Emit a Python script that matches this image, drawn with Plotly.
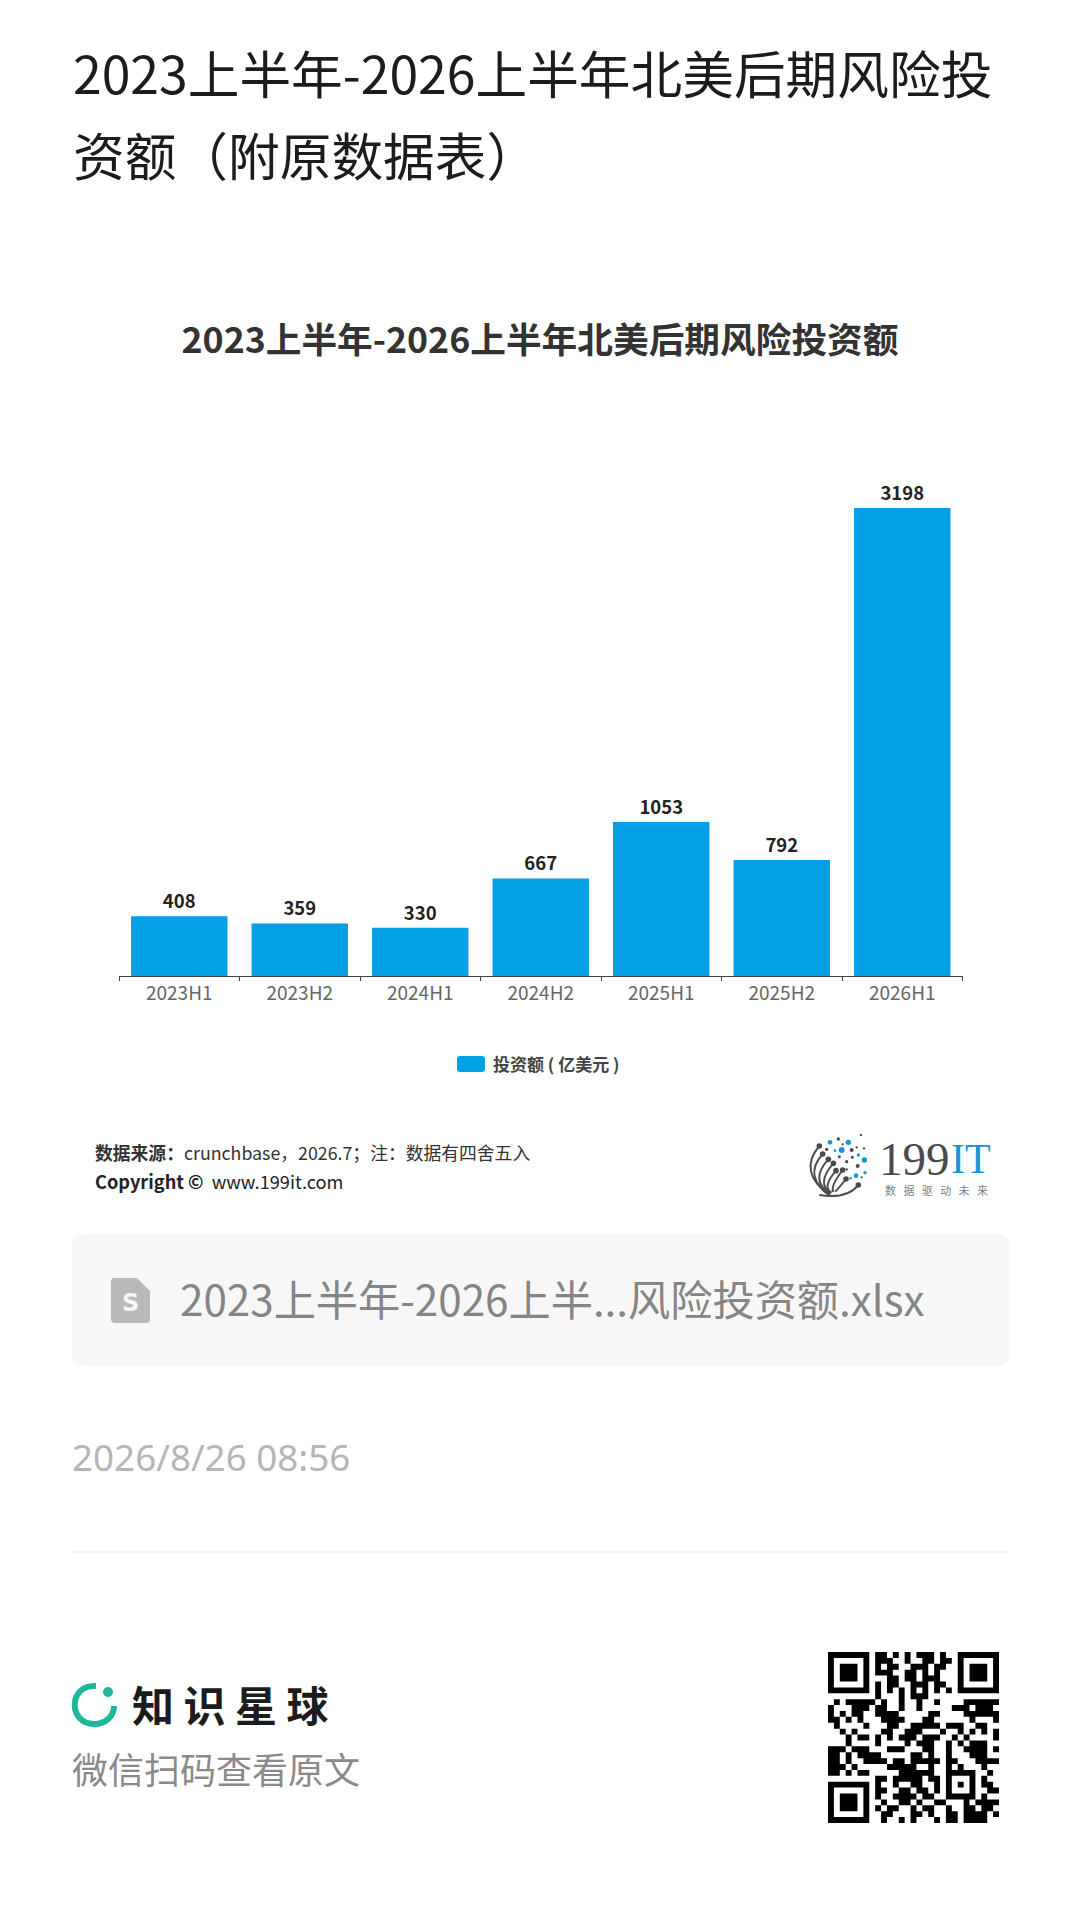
import plotly.graph_objects as go

# ---------- chart data ----------
categories = ["2023H1", "2023H2", "2024H1", "2024H2", "2025H1", "2025H2", "2026H1"]
values = [408, 359, 330, 667, 1053, 792, 3198]
series_name = "投资额（亿美元）"

page_title_lines = ["2023上半年-2026上半年北美后期风险投", "资额（附原数据表）"]
chart_title = "2023上半年-2026上半年北美后期风险投资额"
file_name = "2023上半年-2026上半...风险投资额.xlsx"
timestamp = "2026/8/26 08:56"

W, H = 1080, 1922
CJK = "Noto Sans CJK SC"
BLUE = "#03A0E6"

def fx(x): return x / W
def fy(y): return 1 - y / H
def pt(x, y): return f"{fx(x):.5f},{fy(y):.5f}"

shapes, annotations = [], []

def text(x, y, s, size, color, anchor="left", family=CJK):
    annotations.append(dict(x=fx(x), y=fy(y), xref="paper", yref="paper", text=s, showarrow=False,
                            xanchor=anchor, yanchor="middle", align=anchor, borderpad=0, borderwidth=0,
                            font=dict(family=family, size=size, color=color)))

def path(d, fill=None, line=None, width=0):
    shapes.append(dict(type="path", xref="paper", yref="paper", path=d,
                       fillcolor=fill if fill else "rgba(0,0,0,0)",
                       line=dict(color=line if line else "rgba(0,0,0,0)", width=width), layer="below"))

def rrect(x0, y0, x1, y1, r):
    return (f"M{pt(x0+r,y0)} L{pt(x1-r,y0)} Q{pt(x1,y0)} {pt(x1,y0+r)} L{pt(x1,y1-r)} Q{pt(x1,y1)} {pt(x1-r,y1)} "
            f"L{pt(x0+r,y1)} Q{pt(x0,y1)} {pt(x0,y1-r)} L{pt(x0,y0+r)} Q{pt(x0,y0)} {pt(x0+r,y0)} Z")

def circle(cx, cy, r, color):
    shapes.append(dict(type="circle", xref="paper", yref="paper", x0=fx(cx-r), x1=fx(cx+r),
                       y0=fy(cy+r), y1=fy(cy-r), fillcolor=color, line=dict(width=0), layer="below"))

# ---------- page header ----------
text(72.5, 71.5, page_title_lines[0], 51.7, "#1c1c1c")
text(72.5, 153.5, page_title_lines[1], 51.7, "#1c1c1c")

# ---------- legend ----------
path(rrect(457, 1056, 485, 1072, 3), fill=BLUE)
text(493, 1063, "<b>投资额 ( 亿美元 )</b>", 17, "#444444")

# ---------- source ----------
text(95, 1152, "<b>数据来源：</b>crunchbase，2026.7；注：数据有四舍五入", 17.8, "#333333")
text(95, 1181, "<b>Copyright ©</b>  www.199it.com", 18.2, "#222222")

# ---------- 199IT logo ----------
def lx(z): return 780 + z / 3
def ly(z): return 1110 + z / 3
logo_dots = [(243,75,3.5,"d"),(175,87,5,"d"),(150,97,7,"b"),(205,97,8,"b"),(188,103,3.5,"d"),(140,118,5,"d"),
             (165,122,4,"b"),(185,120,9,"b"),(215,120,6,"d"),(230,112,3.5,"d"),(252,115,3.5,"d"),(235,135,5,"b"),
             (178,140,4.5,"d"),(217,142,4.5,"d"),(253,150,8,"b"),(200,155,5,"d"),(233,168,6,"d"),(200,178,3.5,"d"),
             (255,188,5,"b"),(228,197,7,"b"),(245,202,3.5,"d"),(212,205,4,"b")]
for zx, zy, zr, c in logo_dots:
    circle(lx(zx), ly(zy), zr / 3, "#1596D8" if c == "b" else "#4a4a4a")
fronds = [((118,108),(52,185),(150,258)), ((128,132),(68,200),(150,255)), ((145,148),(88,210),(150,252)),
          ((160,160),(108,220),(152,250)), ((168,182),(125,232),(155,248)), ((188,180),(150,230),(160,246)),
          ((198,207),(172,240),(165,245)), ((235,225),(200,268),(118,255))]
for (a, c, b) in fronds:
    path(f"M{pt(lx(a[0]),ly(a[1]))} Q{pt(lx(c[0]),ly(c[1]))} {pt(lx(b[0]),ly(b[1]))}", line="#4f4f4f", width=2)
    circle(lx(a[0]), ly(a[1]), 2.8, "#4a4a4a")
text(879, 1159, "199", 47, "#4a4a4a", family="Liberation Serif")
text(951, 1159, "IT", 42, "#1596D8", family="Liberation Serif")
text(936, 1190, "数   据   驱   动   未   来", 11, "#808080", anchor="center")

# ---------- file card ----------
path(rrect(72, 1234, 1009, 1366, 12), fill="#F7F7F7")
path(f"M{pt(114,1278)} L{pt(137,1278)} L{pt(150,1291)} L{pt(150,1319)} Q{pt(150,1323)} {pt(146,1323)} "
     f"L{pt(115,1323)} Q{pt(111,1323)} {pt(111,1319)} L{pt(111,1282)} Q{pt(111,1278)} {pt(114,1278)} Z", fill="#B9B9B9")
text(130.5, 1303, "<b>S</b>", 24, "#F7F7F7", anchor="center", family="DejaVu Sans")
text(180, 1297, file_name, 42.2, "#858585")

# ---------- date and divider ----------
text(72, 1457, timestamp, 36.8, "#B5B5B5", family="Noto Sans")
path(f"M{pt(72,1552)} L{pt(1009,1552)}", line="#EEEEEE", width=1.2)

# ---------- footer brand ----------
GREEN = "#1FB69A"
path(f"M{pt(96,1686)} C{pt(68,1684)} {pt(68,1724)} {pt(94,1724)} C{pt(106,1724)} {pt(114,1716)} {pt(114,1706)}",
     line=GREEN, width=6)
circle(108, 1692, 5, GREEN)
text(131.5, 1703, "<b>知 识 星 球</b>", 42, "#1c1c1c")
text(72, 1767.5, "微信扫码查看原文", 36, "#8a8a8a")

# ---------- QR code (read module by module from the picture) ----------
QR_X, QR_Y, QR_M = 828.0, 1652.0, 171.0 / 29
qr_runs = {
    0: [(8,9),(11,11),(13,13),(15,17),(19,19)],
    1: [(8,10),(13,13),(16,17),(19,20)],
    2: [(8,8),(10,11),(14,16),(18,19)],
    3: [(8,10),(13,14),(16,16),(18,18)],
    4: [(10,11),(13,14),(16,18)],
    5: [(8,8),(10,11),(14,16),(18,19)],
    6: [(8,8),(10,10),(12,12),(14,14),(16,16),(18,18),(20,20)],
    7: [(8,8),(12,12),(14,16)],
    8: [(1,1),(3,7),(9,9),(12,12),(15,15),(18,18),(23,28)],
    9: [(0,0),(4,6),(8,9),(12,12),(15,15),(21,23),(25,27)],
    10: [(0,0),(2,2),(4,5),(8,11),(17,18),(23,28)],
    11: [(0,1),(3,3),(5,5),(9,12),(16,17),(24,24),(28,28)],
    12: [(1,1),(6,6),(10,11),(14,18),(20,22),(25,26)],
    13: [(2,2),(4,4),(9,10),(13,15),(19,19),(22,22),(24,24),(26,26),(28,28)],
    14: [(3,3),(5,6),(8,8),(10,10),(12,14),(16,18),(21,21),(23,23),(28,28)],
    15: [(3,3),(8,8),(13,13),(15,17),(20,20),(22,22),(24,26)],
    16: [(0,2),(4,6),(10,12),(16,17),(20,20),(23,26),(28,28)],
    17: [(0,1),(3,3),(5,8),(14,15),(17,17),(20,20),(24,26)],
    18: [(0,1),(3,3),(6,9),(11,12),(14,18),(20,21),(25,28)],
    19: [(0,2),(4,4),(10,14),(17,17),(20,20),(22,22),(26,26)],
    20: [(0,1),(3,3),(5,6),(12,17),(20,24),(27,27)],
    21: [(8,9),(11,15),(17,18),(20,20),(24,24),(26,26)],
    22: [(8,8),(11,11),(14,15),(18,18),(20,20),(22,22),(24,24),(26,27)],
    23: [(8,9),(12,13),(15,16),(18,18),(20,20),(24,24),(27,28)],
    24: [(8,8),(11,14),(16,17),(20,24),(26,26)],
    25: [(9,9),(12,13),(15,15),(18,19),(23,23),(25,28)],
    26: [(8,8),(10,11),(14,14),(16,17),(20,20),(23,24),(26,27)],
    27: [(9,10),(14,15),(17,17),(20,21),(23,26),(28,28)],
    28: [(9,9),(12,12),(14,14),(18,18),(20,21),(23,26)],
}
def qr_rect(c0, r0, c1, r1):
    x0, x1 = QR_X + c0 * QR_M, QR_X + (c1 + 1) * QR_M
    y0, y1 = QR_Y + r0 * QR_M, QR_Y + (r1 + 1) * QR_M
    return f"M{pt(x0,y0)} L{pt(x1,y0)} L{pt(x1,y1)} L{pt(x0,y1)} Z "
qr_d = ""
for c0, r0 in [(0, 0), (22, 0), (0, 22)]:
    qr_d += qr_rect(c0, r0, c0 + 6, r0) + qr_rect(c0, r0 + 6, c0 + 6, r0 + 6)
    qr_d += qr_rect(c0, r0 + 1, c0, r0 + 5) + qr_rect(c0 + 6, r0 + 1, c0 + 6, r0 + 5)
    qr_d += qr_rect(c0 + 2, r0 + 2, c0 + 4, r0 + 4)
for r, runs in qr_runs.items():
    for c0, c1 in runs:
        qr_d += qr_rect(c0, r, c1, r)
path(qr_d, fill="#000000")

# ---------- figure ----------
fig = go.Figure(go.Bar(
    x=categories, y=values, name=series_name, width=0.8,
    marker=dict(color=BLUE, line=dict(width=0)),
    text=values, textposition="outside", cliponaxis=False,
    textfont=dict(family=CJK, size=18.5, color="#222222", weight="bold"),
))
Y_TOP = 3300
PX_PER_UNIT = 468 / 3198
fig.update_layout(
    width=W, height=H, autosize=False, margin=dict(l=0, r=0, t=0, b=0),
    paper_bgcolor="white", plot_bgcolor="white", showlegend=False,
    title=dict(text="<b>" + chart_title + "</b>", x=540 / W, xanchor="center", xref="paper",
               y=fy(341), yanchor="middle", yref="paper",
               font=dict(family=CJK, size=35.7, color="#333333")),
    xaxis=dict(domain=[fx(119), fx(962.5)], type="category", tickson="boundaries", ticks="outside", ticklen=4,
               tickcolor="#444444", tickwidth=1, showline=True, linecolor="#444444", linewidth=1,
               showgrid=False, zeroline=False,
               tickfont=dict(family=CJK, size=19, color="#666666")),
    yaxis=dict(domain=[fy(976), fy(976 - Y_TOP * PX_PER_UNIT)], range=[0, Y_TOP], visible=False),
    shapes=shapes, annotations=annotations, font=dict(family=CJK),
)
fig.write_html("out.html", post_script="document.body.style.margin='0';document.documentElement.style.margin='0';",
               config=dict(displayModeBar=False))
